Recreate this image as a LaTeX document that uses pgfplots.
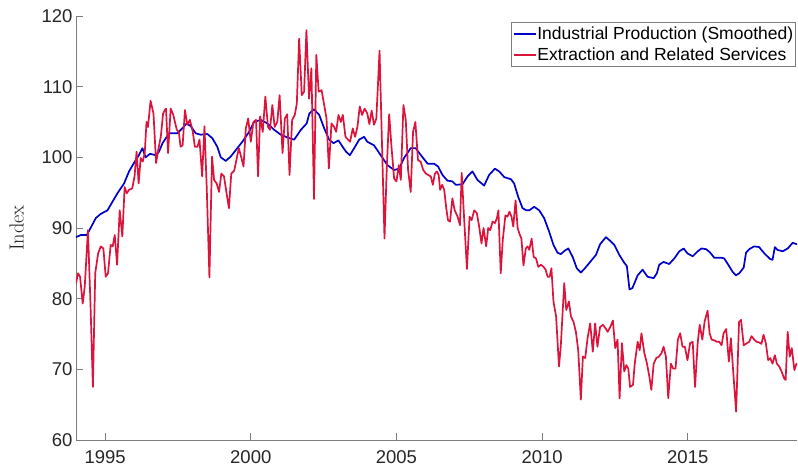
\documentclass[border=0pt]{standalone}
\usepackage{fontspec}
\usepackage{pgfplots}
\usepackage{pgfplotstable}
\pgfplotsset{compat=1.18}
\newfontfamily\arial{Liberation Sans}
\definecolor{ipblue}{RGB}{0,0,205}
\definecolor{exred}{RGB}{220,20,60}
\definecolor{axgray}{RGB}{125,125,125}
\definecolor{txtgray}{RGB}{38,38,38}

% industrial production, smoothed
\pgfplotstableread{
year val
1994.00 88.7
1994.16 89.0
1994.37 89.0
1994.50 90.0
1994.68 91.4
1994.85 92.0
1995.08 92.5
1995.25 93.7
1995.42 94.9
1995.65 96.3
1995.82 98.0
1995.99 99.2
1996.16 100.3
1996.28 101.3
1996.39 100.0
1996.54 100.5
1996.74 100.3
1996.85 100.8
1996.97 102.0
1997.05 102.5
1997.19 103.4
1997.48 103.4
1997.65 104.1
1997.80 104.8
1997.94 104.4
1998.11 103.4
1998.28 103.2
1998.51 103.3
1998.68 102.7
1998.85 101.5
1998.97 100.0
1999.14 99.5
1999.31 100.1
1999.48 101.0
1999.71 102.2
1999.94 103.6
2000.11 105.0
2000.34 105.3
2000.57 104.8
2000.80 103.9
2001.03 103.2
2001.26 102.8
2001.49 102.5
2001.72 103.9
2001.92 104.8
2002.01 106.2
2002.17 106.8
2002.35 106.0
2002.52 104.1
2002.69 102.5
2002.84 102.0
2003.01 102.4
2003.15 101.5
2003.27 100.8
2003.40 100.3
2003.55 101.3
2003.72 102.5
2003.89 102.9
2004.00 102.2
2004.23 101.7
2004.46 100.3
2004.69 98.9
2004.92 98.2
2005.09 98.4
2005.26 99.9
2005.49 101.3
2005.66 101.3
2005.84 100.3
2006.07 99.1
2006.29 99.1
2006.43 98.7
2006.58 97.5
2006.75 96.7
2006.92 96.6
2007.04 96.1
2007.27 96.2
2007.44 97.3
2007.61 98.0
2007.78 96.8
2008.01 96.0
2008.18 97.5
2008.38 98.4
2008.53 98.0
2008.70 97.2
2008.93 96.9
2009.04 96.3
2009.18 94.4
2009.33 92.8
2009.46 92.5
2009.56 92.5
2009.73 93.0
2009.90 92.5
2010.07 91.4
2010.24 89.5
2010.39 87.6
2010.53 86.5
2010.64 86.3
2010.78 86.8
2010.90 87.1
2011.05 85.9
2011.19 84.3
2011.33 83.7
2011.47 84.3
2011.65 85.2
2011.85 86.2
2011.99 87.7
2012.19 88.7
2012.36 88.1
2012.48 87.6
2012.65 86.2
2012.80 85.2
2012.91 84.6
2013.00 81.3
2013.10 81.5
2013.28 83.3
2013.45 84.1
2013.62 83.1
2013.83 82.9
2013.94 83.6
2014.02 84.8
2014.17 85.2
2014.36 84.9
2014.54 85.7
2014.71 86.7
2014.86 87.1
2014.99 86.4
2015.17 86.0
2015.34 86.7
2015.47 87.1
2015.63 87.0
2015.75 86.6
2015.91 85.8
2016.14 85.8
2016.25 85.7
2016.39 84.8
2016.54 83.8
2016.65 83.3
2016.77 83.6
2016.92 84.4
2017.00 86.5
2017.11 87.0
2017.28 87.4
2017.45 87.3
2017.63 86.4
2017.83 85.6
2017.91 85.5
2017.99 87.3
2018.08 86.9
2018.26 86.7
2018.43 87.1
2018.60 87.9
2018.75 87.7
}\ipdata

% extraction and related services
\pgfplotstableread{
year val
1994.00 82.2
1994.07 83.6
1994.14 83.1
1994.23 79.3
1994.30 81.7
1994.41 89.7
1994.50 78.9
1994.58 67.5
1994.66 83.6
1994.76 86.4
1994.85 87.4
1994.94 87.1
1995.02 83.1
1995.10 83.6
1995.19 87.6
1995.26 87.4
1995.33 89.0
1995.41 84.8
1995.50 92.5
1995.59 88.8
1995.67 95.8
1995.74 94.9
1995.82 95.4
1995.93 95.6
1996.01 97.3
1996.08 100.8
1996.15 96.3
1996.22 99.9
1996.29 99.4
1996.36 100.6
1996.42 105.0
1996.47 104.3
1996.56 108.0
1996.66 106.2
1996.75 99.2
1996.82 101.0
1996.91 102.9
1996.99 106.2
1997.05 106.7
1997.09 106.9
1997.16 100.6
1997.25 106.9
1997.34 106.0
1997.46 103.9
1997.53 103.6
1997.59 101.5
1997.66 101.7
1997.74 106.7
1997.82 104.6
1997.91 105.3
1998.01 103.6
1998.08 101.5
1998.17 101.5
1998.24 102.5
1998.33 97.3
1998.41 104.4
1998.49 95.4
1998.58 83.0
1998.67 100.1
1998.74 96.8
1998.83 96.3
1998.91 95.1
1998.99 97.7
1999.08 97.3
1999.17 94.9
1999.25 92.8
1999.33 97.7
1999.43 98.1
1999.52 99.9
1999.59 101.3
1999.68 99.9
1999.75 98.7
1999.83 104.1
1999.91 105.5
2000.00 102.2
2000.09 105.0
2000.18 105.3
2000.25 97.3
2000.32 105.8
2000.41 103.6
2000.50 108.6
2000.59 104.3
2000.66 103.9
2000.74 107.4
2000.82 104.3
2000.91 105.0
2000.99 108.8
2001.09 100.6
2001.17 105.5
2001.25 106.1
2001.33 97.5
2001.42 105.3
2001.51 106.0
2001.58 107.6
2001.66 116.8
2001.75 108.8
2001.83 109.3
2001.91 118.0
2002.00 108.3
2002.08 112.6
2002.17 94.1
2002.25 114.5
2002.33 109.3
2002.43 109.5
2002.52 107.4
2002.60 105.5
2002.68 98.4
2002.77 104.8
2002.86 104.3
2002.93 103.6
2003.01 106.0
2003.09 105.0
2003.16 106.0
2003.25 102.9
2003.34 102.5
2003.41 102.2
2003.50 104.1
2003.58 102.9
2003.66 104.3
2003.74 107.2
2003.82 106.0
2003.91 106.9
2004.00 106.2
2004.07 104.7
2004.15 106.6
2004.23 104.6
2004.31 105.5
2004.42 115.1
2004.50 102.5
2004.59 88.5
2004.67 98.7
2004.75 106.1
2004.83 101.5
2004.92 97.0
2005.00 96.6
2005.08 98.9
2005.15 96.8
2005.24 107.4
2005.32 105.3
2005.40 98.2
2005.49 95.1
2005.57 103.6
2005.65 105.0
2005.74 99.6
2005.83 99.4
2005.92 98.2
2006.01 97.7
2006.09 97.5
2006.18 97.3
2006.25 96.1
2006.32 97.7
2006.39 98.0
2006.45 97.5
2006.50 95.4
2006.57 96.1
2006.64 95.4
2006.71 92.8
2006.77 91.1
2006.84 90.9
2006.92 94.2
2007.00 92.5
2007.10 91.6
2007.18 90.4
2007.24 97.8
2007.32 91.6
2007.42 84.2
2007.51 91.6
2007.58 91.1
2007.67 92.5
2007.76 92.1
2007.84 90.2
2007.92 87.8
2007.99 90.0
2008.08 87.4
2008.15 90.0
2008.22 89.7
2008.30 90.9
2008.38 90.7
2008.45 91.4
2008.50 92.5
2008.58 83.6
2008.65 88.3
2008.74 91.8
2008.81 91.6
2008.88 92.3
2008.95 91.6
2009.01 90.2
2009.09 93.9
2009.16 90.0
2009.22 89.2
2009.29 88.5
2009.36 84.7
2009.44 87.1
2009.50 87.4
2009.56 86.9
2009.64 88.5
2009.71 85.9
2009.79 85.7
2009.87 84.5
2009.96 84.8
2010.05 84.5
2010.12 84.1
2010.19 83.1
2010.26 83.1
2010.32 84.3
2010.39 79.6
2010.48 77.5
2010.58 70.4
2010.64 73.2
2010.76 82.2
2010.83 78.4
2010.92 79.6
2010.99 77.5
2011.08 76.7
2011.16 75.3
2011.24 72.7
2011.33 65.7
2011.40 71.8
2011.48 71.6
2011.56 74.4
2011.65 76.5
2011.74 72.5
2011.82 76.5
2011.90 73.2
2011.99 76.0
2012.09 76.3
2012.18 75.8
2012.25 75.3
2012.34 76.0
2012.43 76.9
2012.51 73.0
2012.59 74.2
2012.66 65.9
2012.74 73.7
2012.82 69.7
2012.89 70.6
2012.96 70.1
2013.02 67.5
2013.12 67.8
2013.18 70.8
2013.28 73.9
2013.35 72.7
2013.41 75.1
2013.51 72.3
2013.60 70.8
2013.68 69.0
2013.75 67.1
2013.83 70.8
2013.92 71.6
2014.01 71.8
2014.10 72.3
2014.17 73.2
2014.25 71.8
2014.33 65.9
2014.42 70.8
2014.50 70.1
2014.58 70.1
2014.66 74.2
2014.74 75.1
2014.82 73.2
2014.90 73.2
2014.99 71.3
2015.08 73.7
2015.17 73.9
2015.25 67.5
2015.34 73.7
2015.41 76.3
2015.50 74.2
2015.58 76.8
2015.68 78.3
2015.75 75.1
2015.82 74.2
2015.91 74.1
2016.00 73.9
2016.08 73.9
2016.16 73.4
2016.23 75.1
2016.32 75.7
2016.41 71.1
2016.48 74.4
2016.56 69.7
2016.66 64.0
2016.76 76.7
2016.83 77.0
2016.92 73.4
2017.03 73.7
2017.11 73.9
2017.19 74.7
2017.28 74.2
2017.36 73.9
2017.45 73.8
2017.53 73.6
2017.60 74.9
2017.68 73.7
2017.76 71.3
2017.83 71.6
2017.91 70.8
2017.99 72.0
2018.06 70.8
2018.14 70.4
2018.22 69.7
2018.31 68.7
2018.36 68.5
2018.43 75.3
2018.50 71.8
2018.57 73.0
2018.66 69.9
2018.73 70.8
2018.75 70.6
}\exdata

\begin{document}
\begin{tikzpicture}
\begin{axis}[
    scale only axis,
    width=721pt, height=424pt,
    xmin=1994, xmax=2018.75,
    ymin=60, ymax=120,
    xtick={1995,2000,...,2015},
    ytick={60,70,...,120},
    axis x line*=bottom,
    axis y line*=left,
    axis line style={axgray, line width=0.8pt},
    tick align=inside,
    major tick length=7pt,
    every tick/.style={axgray, line width=0.8pt},
    /pgf/number format/1000 sep={},
    /pgf/number format/assume math mode=true,
    tick label style={font=\arial\fontsize{18.5}{22}\selectfont, text=txtgray},
    xticklabel style={yshift=-7pt},
    ylabel={Index},
    ylabel style={font=\fontsize{20.4}{24}\selectfont, text=txtgray, yshift=11pt},
    legend cell align=left,
    legend image code/.code={\draw[#1, line width=1.7pt] (0pt,0pt) -- (22pt,0pt);},
    legend style={
        at={(1,1)}, anchor=north east, xshift=-1pt, yshift=-6.5pt,
        draw=axgray, line width=0.6pt, fill=white,
        font=\arial\fontsize{17.5}{21}\selectfont,
        inner xsep=2pt, inner ysep=2.5pt, row sep=3pt,
        nodes={inner xsep=0.5pt, inner ysep=1.5pt, text depth=0.2em},
    },
]
\addplot[ipblue, line width=1.7pt, line join=round] table[x=year, y=val] {\ipdata};
\addlegendentry{Industrial Production (Smoothed)}
\addplot[exred, line width=1.7pt, line join=round] table[x=year, y=val] {\exdata};
\addlegendentry{Extraction and Related Services}
\end{axis}
\pgfresetboundingbox
\path (current axis.south west) ++(-76pt,-33pt) rectangle ([shift={(1pt,16pt)}]current axis.north east);
\end{tikzpicture}
\end{document}
